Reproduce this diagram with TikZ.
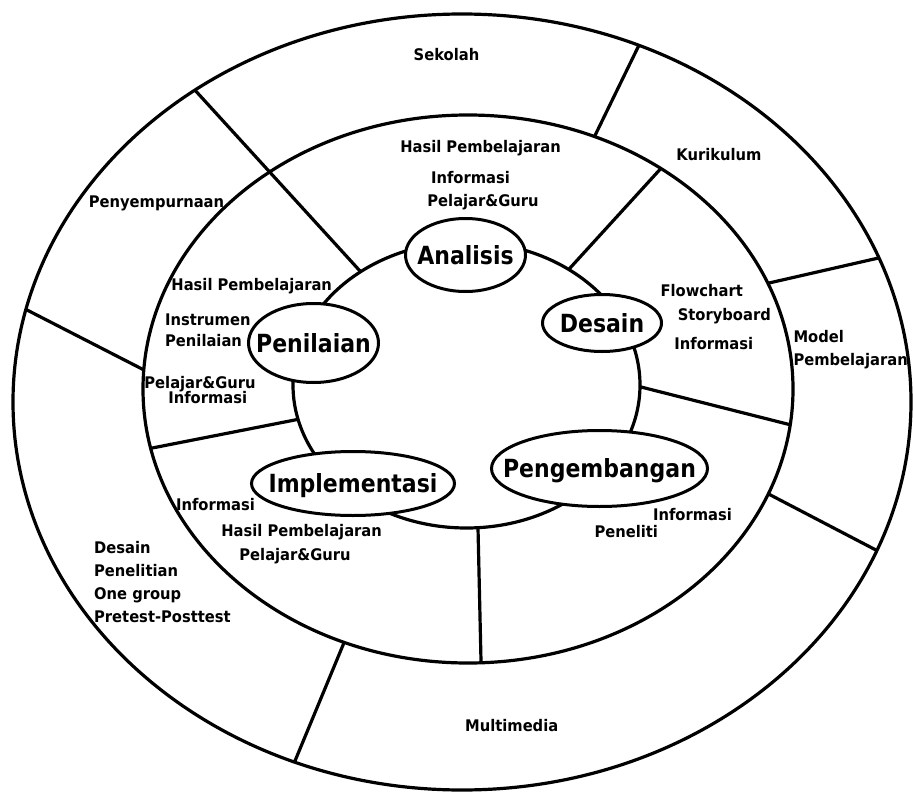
\documentclass[tikz,border=0pt]{standalone}
\usepackage{fontspec}
\setmainfont{DejaVu Sans}
\newfontfamily\smallfnt[FakeStretch=0.92]{DejaVu Sans}
\newfontfamily\stagefnt[FakeStretch=0.88]{DejaVu Sans}
\usetikzlibrary{shapes.geometric}

\begin{document}
\begin{tikzpicture}[x=1pt, y=-1pt,
  ring/.style={line width=3.2pt},
  stagetxt/.style={font=\stagefnt\bfseries\fontsize{25}{30}\selectfont,
    inner sep=0pt, text height=18.2pt, text depth=0pt},
  stage/.style={ellipse, draw, fill=white, line width=3pt, inner sep=0pt,
    label={[stagetxt]center:#1}},
  lbl/.style={font=\smallfnt\bfseries\fontsize{16}{20}\selectfont,
    inner sep=0pt, anchor=base},
  lbll/.style={lbl, anchor=base west}]

\useasboundingbox (0,0) rectangle (913,792);

% ---------- centres of the rings ----------
\coordinate (O) at (462,402);
\coordinate (M) at (468,389);
\coordinate (I) at (466.5,385);

% ---------- rings ----------
\draw[ring] (O) ellipse [x radius=449, y radius=388];
\draw[ring] (M) ellipse [x radius=325, y radius=274];
\draw[ring] (I) ellipse [x radius=173.5, y radius=143];

% ---------- points on the rings ----------
\foreach \nm/\a in {o1/-66.8, o2/-21.8, o3/22.5, o4/111.9, o5/-166.2, o6/-126.5}
  \coordinate (\nm) at ([shift={(\a:449 and 388)}]O);
\foreach \nm/\a in {m1/-67.1, m2/-22.7, m3/22.5, m4/112.4, m5/184,
                    mb/-53.6, mc/7.5, md/87.7, me/167.5}
  \coordinate (\nm) at ([shift={(\a:325 and 274)}]M);
\foreach \nm/\a in {i6/-127.6, ib/-53.9, ic/0.7, id/86.2, ie/166.1}
  \coordinate (\nm) at ([shift={(\a:173.5 and 143)}]I);

% ---------- dividers ----------
\draw[ring] (m1) -- (o1);
\draw[ring] (m2) -- (o2);
\draw[ring] (m3) -- (o3);
\draw[ring] (m4) -- (o4);
\draw[ring] (m5) -- (o5);
\draw[ring] (i6) -- (o6);
\draw[ring] (ib) -- (mb);
\draw[ring] (ic) -- (mc);
\draw[ring] (id) -- (md);
\draw[ring] (ie) -- (me);

% ---------- stages ----------
\node[stage=Analisis, minimum width=120pt, minimum height=73pt] (ana) at (465.5,255) {};
\node[stage=Desain, minimum width=119pt, minimum height=57pt] (des) at (602,323) {};
\node[stage=Penilaian, minimum width=130pt, minimum height=79pt] (pen) at (313.5,343) {};
\node[stage=Implementasi, minimum width=203pt, minimum height=64pt] (imp) at (353,483.5) {};
\node[stage=Pengembangan, minimum width=216pt, minimum height=76pt] (pgb) at (599.5,468.5) {};

% ---------- outer ring ----------
\node[lbl] (sekolah) at (446.5,60.7) {Sekolah};
\node[lbl] (kurikulum) at (719,160) {Kurikulum};
\node[lbl] (penyemp) at (156.5,207) {Penyempurnaan};
\node[lbll] (model) at (793.3,342.7) {Model};
\node[lbll] (modelb) at (793.3,365.5) {Pembelajaran};
\node[lbll] (dsn) at (94,553) {Desain};
\node[lbll] (dsnb) at (94,576.3) {Penelitian};
\node[lbll] (dsnc) at (94,599.5) {One group};
\node[lbll] (dsnd) at (94,622) {Pretest-Posttest};
\node[lbl] (multimedia) at (511.7,731.7) {Multimedia};

% ---------- middle ring ----------
\node[lbl] (hasila) at (480.5,152.7) {Hasil Pembelajaran};
\node[lbl] (infoa) at (470.5,183.3) {Informasi};
\node[lbl] (pga) at (483,206) {Pelajar\&Guru};

\node[lbl] (flow) at (701.7,296.7) {Flowchart};
\node[lbl] (story) at (724.3,320) {Storyboard};
\node[lbl] (infod) at (713.8,349.3) {Informasi};

\node[lbl] (hasilp) at (251.7,290) {Hasil Pembelajaran};
\node[lbll] (instr) at (165,325) {Instrumen};
\node[lbll] (instrb) at (165,346.7) {Penilaian};
\node[lbl] (pgp) at (200,388.3) {Pelajar\&Guru};
\node[lbl] (infop) at (207.7,403.3) {Informasi};

\node[lbl] (infoi) at (215.5,510) {Informasi};
\node[lbl] (hasili) at (301.6,536.7) {Hasil Pembelajaran};
\node[lbl] (pgi) at (295,560.7) {Pelajar\&Guru};

\node[lbl] (infog) at (692.5,520) {Informasi};
\node[lbl] (peneliti) at (626.3,537.3) {Peneliti};

\end{tikzpicture}
\end{document}
